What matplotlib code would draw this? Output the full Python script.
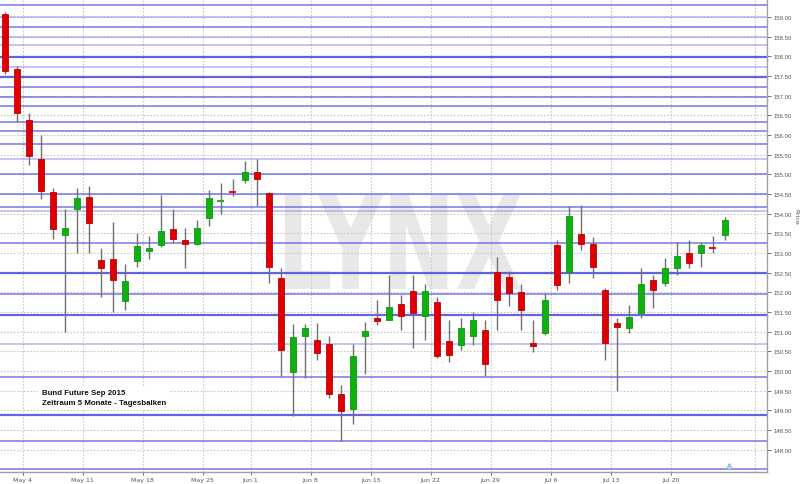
import matplotlib
matplotlib.use("Agg")
import matplotlib.pyplot as plt
from matplotlib.patches import Rectangle, PathPatch
from matplotlib.textpath import TextPath
from matplotlib.font_manager import FontProperties, fontManager
from matplotlib.transforms import Affine2D

# ---- data (trading-day index based) ----
opens  = [159.08,157.67,156.39,155.38,154.54,153.46,154.12,154.43,152.82,152.85,
          151.78,152.80,153.06,153.20,153.62,153.33,153.22,153.90,154.32,154.55,
          154.85,155.07,154.52,152.37,149.98,150.89,150.79,150.69,149.41,149.04,
          150.89,151.35,151.30,151.71,152.04,151.40,151.76,150.77,150.66,150.89,
          151.05,152.51,152.40,152.00,150.72,150.97,153.20,152.52,153.48,153.23,
          152.06,151.22,151.10,151.48,152.31,152.24,152.62,153.00,152.99,153.13,
          153.46]
closes = [157.63,156.55,155.46,154.57,153.61,153.64,154.41,153.77,152.62,152.31,
          152.29,153.19,153.13,153.56,153.35,153.23,153.63,154.41,154.35,154.53,
          155.07,154.89,152.64,150.54,150.87,151.10,150.46,149.42,148.99,150.39,
          151.02,151.27,151.62,151.40,151.48,152.04,150.39,150.41,151.10,151.30,
          150.18,151.81,151.98,151.55,150.64,151.81,152.19,153.94,153.23,152.64,
          150.72,151.12,151.38,152.21,152.06,152.62,152.92,152.75,153.20,153.11,
          153.84]
highs  = [159.12,157.75,156.57,155.99,154.66,154.11,154.66,154.71,153.13,153.79,
          152.72,153.52,153.43,154.47,154.12,153.63,153.84,154.60,154.77,154.87,
          155.34,155.40,154.56,152.62,151.20,151.20,151.22,150.89,149.63,150.69,
          151.25,151.81,152.44,151.93,152.44,152.21,151.88,151.30,151.35,151.50,
          151.30,152.91,152.54,152.21,151.30,151.98,153.33,154.19,154.22,153.41,
          152.11,151.35,151.68,152.62,152.44,152.87,153.28,153.33,153.29,153.43,
          153.92]
lows   = [157.55,156.33,155.23,154.37,153.35,150.99,153.00,153.00,151.88,151.50,
          151.55,152.65,152.86,153.16,153.25,152.62,153.20,153.69,153.99,154.45,
          154.77,154.20,152.23,149.88,148.85,149.83,150.28,149.32,148.23,148.66,
          149.93,151.17,151.30,151.05,150.59,150.79,150.33,150.23,150.54,150.66,
          149.86,151.05,151.65,151.05,150.49,150.92,152.06,152.24,153.08,152.37,
          150.28,149.48,150.97,151.35,151.60,152.16,152.44,152.62,152.65,152.99,
          153.33]

tick_days   = [2, 7, 12, 17, 21, 26, 31, 36, 41, 46, 51, 56]
tick_labels = ["May 4", "May 11", "May 18", "May 25", "Jun 1", "Jun 8",
               "Jun 15", "Jun 22", "Jun 29", "Jul 6", "Jul 13", "Jul 20"]
extra_grid_day = 63

strong_lines = [157.98, 157.47, 152.50, 151.43, 148.89]
normal_lines = [159.32, 158.74, 157.22, 156.97, 156.73, 156.32, 156.10, 155.78,
                155.00, 154.49, 154.18, 153.25, 151.95, 149.85, 148.21, 147.51]
light_lines  = [159.00, 158.49, 158.30, 157.73, 155.39, 154.07, 150.69]

price_ticks = [148.0 + 0.5 * k for k in range(23)]

W, H = 800, 485
fig = plt.figure(figsize=(W / 100, H / 100), dpi=100)
ax = fig.add_axes([0.0, 12 / H, 767 / W, 473 / H])
ax.set_xlim(-0.39, 63.53)
ax.set_ylim(147.43, 159.46)

# watermark LYNX fitted to its box (figure pixels)
tp = TextPath((0, 0), "LYNX", size=100,
              prop=FontProperties(family="DejaVu Sans", weight="bold"))
ext = tp.get_extents()
x0, x1, ytop, ybot = 285, 521, 196, 290
sx = (x1 - x0) / ext.width
sy = (ybot - ytop) / ext.height
tr = (Affine2D().translate(-ext.x0, -ext.y0).scale(sx, sy)
      .translate(x0, H - ybot).scale(1 / W, 1 / H))
ax.add_patch(PathPatch(tr.transform_path(tp), transform=fig.transFigure,
                       facecolor="#e8e8e8", edgecolor="none", zorder=0,
                       clip_on=False))

# dotted grid
for p in price_ticks:
    ax.axhline(p, color="#c8c8c8", lw=0.8, ls=(0, (1.5, 1.5)), zorder=1)
for d in tick_days + [extra_grid_day]:
    ax.axvline(d - 0.5, color="#c8c8c8", lw=0.8, ls=(0, (1.5, 1.5)), zorder=1)

# blue horizontal lines
for p in strong_lines:
    ax.axhline(p, color="#4a4ae0", lw=1.6, alpha=0.85, zorder=2)
for p in normal_lines:
    ax.axhline(p, color="#5858e6", lw=1.2, alpha=0.75, zorder=2)
for p in light_lines:
    ax.axhline(p, color="#7c7cf0", lw=1.4, alpha=0.45, zorder=2)

# candles
w = 0.5
for i, (o, h, l, c) in enumerate(zip(opens, highs, lows, closes)):
    up = c >= o
    col = "#10b010" if up else "#dd0000"
    edge = "#0a9a0a" if up else "#c00000"
    ax.vlines(i, l, h, color="#707070", lw=1.0, zorder=3)
    bot = min(o, c)
    hgt = abs(c - o)
    if hgt < 0.04:
        ax.hlines((o + c) / 2, i - w / 2 - 0.05, i + w / 2 + 0.05, color=col,
                  lw=1.3, zorder=4)
    else:
        ax.add_patch(Rectangle((i - w / 2, bot), w, hgt, facecolor=col,
                               edgecolor=edge, lw=0.6, zorder=4))

# small icon near bottom right
ax.plot([60.4], [147.57], marker="^", ms=5, color="#bcd4f4", mec="#7aa6e0",
        mew=0.6, zorder=5, clip_on=False)

# axes styling
ax.yaxis.tick_right()
ax.set_yticks(price_ticks)
ax.set_yticklabels([f"{p:.2f}" for p in price_ticks], family="Liberation Sans")
ax.set_xticks([d - 0.5 for d in tick_days])
ax.set_xticklabels(tick_labels)
ax.tick_params(axis="both", colors="#555555", width=0.6)
ax.tick_params(axis="y", labelsize=4.3, length=3, pad=2)
ax.tick_params(axis="x", labelsize=4.5, length=2, pad=1.5)
for s in ["top", "left"]:
    ax.spines[s].set_visible(False)
for s in ["right", "bottom"]:
    ax.spines[s].set_color("#a0a0a0")
    ax.spines[s].set_linewidth(1.0)

fig.text(796 / W, 1 - 217 / H, "Price", rotation=-90, ha="center", va="center",
         fontsize=4.6, color="#555555")

names = {f.name for f in fontManager.ttflist}
box_font = "Liberation Sans Narrow" if "Liberation Sans Narrow" in names else "Liberation Sans"
ax.text(41.7 / 767, (473 - 398.5) / 473,
        "Bund Future Sep 2015\nZeitraum 5 Monate - Tagesbalken",
        transform=ax.transAxes, ha="left", va="center", fontsize=5.7,
        fontweight="bold", family=box_font, color="#111111", linespacing=1.45,
        zorder=6, bbox=dict(facecolor="white", edgecolor="none", pad=2.5))

fig.savefig("out.png", dpi=100)
